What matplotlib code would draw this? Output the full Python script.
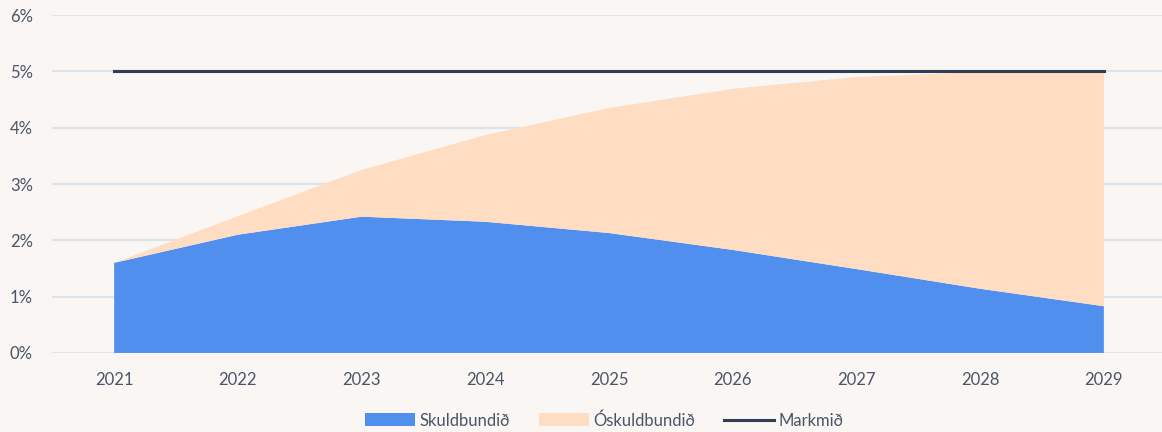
import matplotlib
matplotlib.use("Agg")
import matplotlib.pyplot as plt
from matplotlib.patches import Patch
from matplotlib.lines import Line2D
from matplotlib.ticker import FuncFormatter

# Gögn
years = [2021, 2022, 2023, 2024, 2025, 2026, 2027, 2028, 2029]
skuldbundid = [1.60, 2.10, 2.42, 2.33, 2.13, 1.83, 1.49, 1.14, 0.83]
heild = [1.60, 2.43, 3.25, 3.87, 4.35, 4.69, 4.90, 4.99, 5.00]
oskuldbundid = [h - s for h, s in zip(heild, skuldbundid)]
markmid = [5, 5, 5, 5, 5, 5, 5, 5, 5]

bg = "#F9F6F3"
blue = "#518FEE"
peach = "#FFDDC2"
navy = "#2F3E52"
grid_c = "#DDE3EA"
text_c = "#4A5568"

plt.rcParams["font.family"] = ["Lato", "DejaVu Sans"]

fig = plt.figure(figsize=(11.62, 4.32), dpi=100, facecolor=bg)
ax = fig.add_axes([0.045, 0.183, 0.955, 0.782])
ax.set_facecolor(bg)

ax.stackplot(years, skuldbundid, oskuldbundid, colors=[blue, peach],
             linewidth=0, zorder=2)
ax.plot(years, markmid, color=navy, linewidth=2.2, zorder=3)

ax.set_xlim(2020.5, 2029.47)
ax.set_ylim(0, 6)
ax.set_yticks(range(0, 7))
ax.yaxis.set_major_formatter(FuncFormatter(lambda v, p: f"{v:.0f}%"))
ax.set_xticks(years)
ax.grid(axis="y", color=grid_c, linewidth=1.5, zorder=1)
ax.set_axisbelow(True)
for s in ax.spines.values():
    s.set_visible(False)
ax.tick_params(length=0, labelsize=12, colors=text_c)
ax.tick_params(axis="y", pad=14)
ax.tick_params(axis="x", pad=14)

handles = [
    Patch(facecolor=blue, label="Skuldbundið"),
    Patch(facecolor=peach, label="Óskuldbundið"),
    Line2D([0], [0], color=navy, linewidth=2.2, label="Markmið"),
]
leg = fig.legend(handles=handles, loc="center", bbox_to_anchor=(0.52, 0.027),
                 ncol=3, frameon=False, fontsize=12, handlelength=3.0,
                 handleheight=0.8, handletextpad=0.3, columnspacing=1.7)
for t in leg.get_texts():
    t.set_color(text_c)

fig.savefig("out.png", dpi=100, facecolor=bg)
